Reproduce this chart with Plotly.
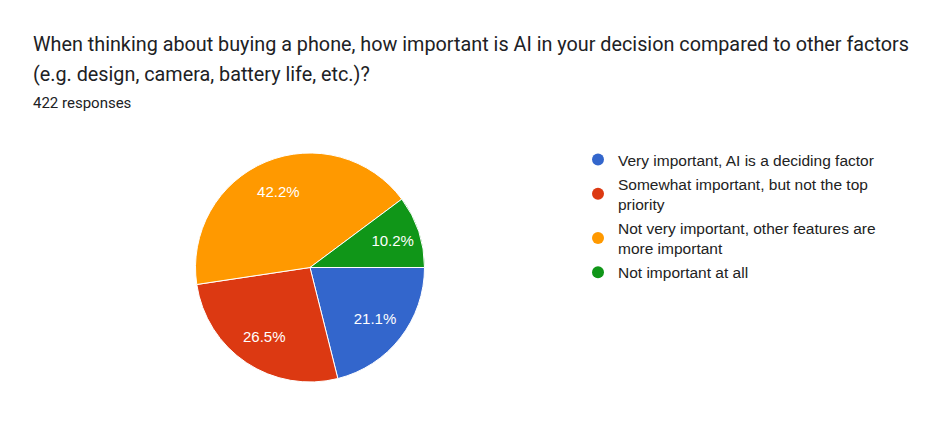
import plotly.graph_objects as go

QUESTION_LINE_1 = "When thinking about buying a phone, how important is AI in your decision compared to other factors"
QUESTION_LINE_2 = "(e.g. design, camera, battery life, etc.)?"
RESPONSES = "422 responses"

answers = [
    "Very important, AI is a deciding factor",
    "Somewhat important, but not the top<br>priority",
    "Not very important, other features are<br>more important",
    "Not important at all",
]
counts = [89, 112, 178, 43]
colors = ["#3366cc", "#dc3912", "#ff9900", "#109618"]

W, H = 941, 427
OFF = 8  # the page body adds an 8px margin around the figure


def px_x(x):
    return (x - OFF) / W


def px_y(y):
    return 1 - (y - OFF) / H


pie_domain = dict(x=[px_x(195), px_x(425)], y=[px_y(382), px_y(153)])

fig = go.Figure()

fig.add_trace(go.Pie(
    labels=answers,
    values=counts,
    sort=False,
    direction="clockwise",
    rotation=90,
    marker=dict(colors=colors, line=dict(color="white", width=1)),
    textinfo="none",
    showlegend=False,
    hoverinfo="label+value+percent",
    domain=pie_domain,
))

# transparent ring on top, only to push the percent labels further out
fig.add_trace(go.Pie(
    labels=answers,
    values=counts,
    sort=False,
    direction="clockwise",
    rotation=90,
    hole=0.44,
    marker=dict(colors=["rgba(0,0,0,0)"] * len(counts), line=dict(width=0)),
    texttemplate="%{percent:.1%}",
    textposition="inside",
    insidetextorientation="horizontal",
    textfont=dict(family="Liberation Sans, Arial", size=15, color="white"),
    showlegend=False,
    hoverinfo="skip",
    domain=pie_domain,
))

# legend entries with round markers, as in the Google Forms summary
for name, col in zip(answers, colors):
    fig.add_trace(go.Scatter(
        x=[None], y=[None], mode="markers", name=name, legendgroup=name,
        marker=dict(color=col, size=14, symbol="circle"),
    ))

fig.update_xaxes(visible=False)
fig.update_yaxes(visible=False)

title_font = dict(family="Roboto", size=19.8, color="#202124")
fig.add_annotation(text=QUESTION_LINE_1, x=px_x(31), y=px_y(31), xref="paper", yref="paper",
                   xanchor="left", yanchor="top", showarrow=False, font=title_font)
fig.add_annotation(text=QUESTION_LINE_2, x=px_x(31), y=px_y(61), xref="paper", yref="paper",
                   xanchor="left", yanchor="top", showarrow=False, font=title_font)
fig.add_annotation(text=RESPONSES, x=px_x(31), y=px_y(92), xref="paper", yref="paper",
                   xanchor="left", yanchor="top", showarrow=False,
                   font=dict(family="Roboto", size=15, color="#202124"))

fig.update_layout(
    width=W, height=H,
    margin=dict(l=0, r=0, t=0, b=0),
    paper_bgcolor="white",
    plot_bgcolor="white",
    showlegend=True,
    legend=dict(
        x=px_x(578), y=px_y(143), xanchor="left", yanchor="top",
        font=dict(family="Liberation Sans, Arial", size=15.5, color="#222222"),
        itemsizing="constant",
        tracegroupgap=1,
        bgcolor="rgba(0,0,0,0)",
    ),
)

fig.write_html("out.html")
